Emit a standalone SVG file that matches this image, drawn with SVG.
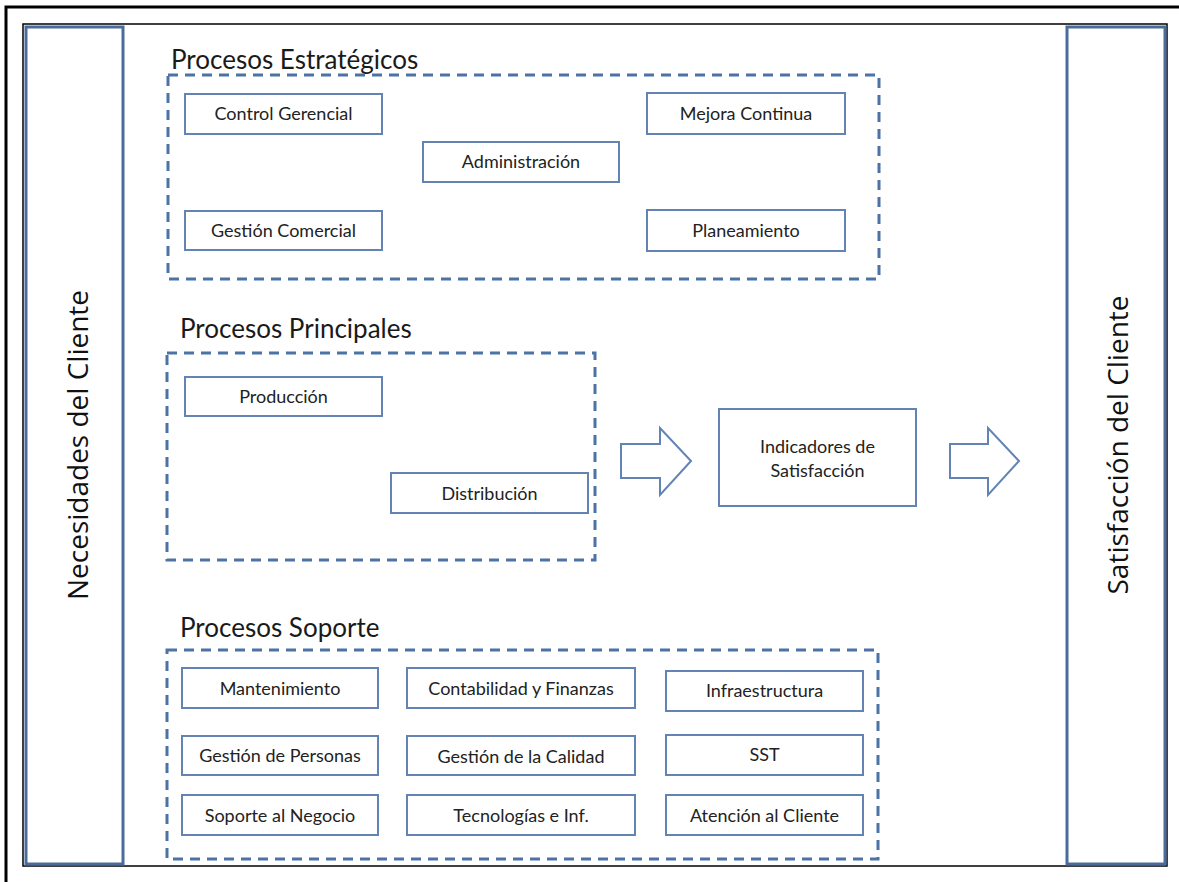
<svg xmlns="http://www.w3.org/2000/svg" width="1179" height="882" viewBox="0 0 1179 882">
<style>
.frame{fill:none;stroke:#000;}
.side{fill:#fff;stroke:#4a6c9c;stroke-width:3;}
.grp{fill:none;stroke:#4d72a6;stroke-width:3;stroke-dasharray:10 7;}
.box{fill:#fff;stroke:#6283b3;stroke-width:2;}
.lbl{font-family:Lato,"Liberation Sans",sans-serif;font-size:18px;fill:#222;text-anchor:middle;}
.ttl{font-family:Lato,"Liberation Sans",sans-serif;font-size:26px;fill:#1a1a1a;}
.vt{font-family:"Open Sans","Liberation Sans",sans-serif;font-size:28px;fill:#111;text-anchor:middle;}
.arr{fill:#fff;stroke:#6283b3;stroke-width:2;}
</style>
<rect width="1179" height="882" fill="#fff"/>
<rect class="frame" x="6" y="7" width="1180" height="880" stroke-width="3"/>
<rect class="frame" x="23" y="24" width="1144" height="842" stroke-width="1.5"/>

<g id="necesidades">
<rect class="side" x="26" y="27" width="97" height="837"/>
<text class="vt" transform="translate(88 445) rotate(-90)">Necesidades del Cliente</text>
</g>
<g id="satisfaccion">
<rect class="side" x="1067" y="27" width="98" height="837"/>
<text class="vt" transform="translate(1128 445) rotate(-90)">Satisfacción del Cliente</text>
</g>

<g id="estrategicos">
<text class="ttl" x="171" y="69">Procesos Estratégicos</text>
<rect class="grp" x="168" y="75" width="711" height="204"/>
</g>
<g id="control-gerencial"><rect class="box" x="185" y="94" width="197" height="40"/><text class="lbl" x="283.5" y="120">Control Gerencial</text></g>
<g id="gestion-comercial"><rect class="box" x="185" y="211" width="197" height="39"/><text class="lbl" x="283.5" y="237">Gestión Comercial</text></g>
<g id="administracion"><rect class="box" x="423" y="142" width="196" height="40"/><text class="lbl" x="521" y="168">Administración</text></g>
<g id="mejora-continua"><rect class="box" x="647" y="93" width="198" height="41"/><text class="lbl" x="746" y="120">Mejora Continua</text></g>
<g id="planeamiento"><rect class="box" x="647" y="210" width="198" height="41"/><text class="lbl" x="746" y="237">Planeamiento</text></g>

<g id="principales">
<text class="ttl" x="180" y="338">Procesos Principales</text>
<rect class="grp" x="167" y="353" width="428" height="207"/>
</g>
<g id="produccion"><rect class="box" x="185" y="377" width="197" height="39"/><text class="lbl" x="283.5" y="403">Producción</text></g>
<g id="distribucion"><rect class="box" x="391" y="473" width="197" height="40"/><text class="lbl" x="489.5" y="500">Distribución</text></g>

<g id="connectors">
<polygon class="arr" points="621,444 660,444 660,428 691,461 660,495 660,478 621,478"/>
<polygon class="arr" points="950,444 988,444 988,428 1019,461 988,495 988,478 950,478"/>
</g>

<g id="indicadores"><rect class="box" x="719" y="409" width="197" height="97"/><text class="lbl" x="817.5" y="453">Indicadores de</text><text class="lbl" x="817.5" y="477">Satisfacción</text></g>

<g id="soporte">
<text class="ttl" x="180" y="637">Procesos Soporte</text>
<rect class="grp" x="167" y="650" width="711" height="209"/>
</g>
<g id="mantenimiento"><rect class="box" x="182" y="668" width="196" height="40"/><text class="lbl" x="280" y="695">Mantenimiento</text></g>
<g id="contabilidad"><rect class="box" x="407" y="668" width="228" height="40"/><text class="lbl" x="521" y="695">Contabilidad y Finanzas</text></g>
<g id="infraestructura"><rect class="box" x="666" y="671" width="197" height="40"/><text class="lbl" x="764.5" y="697">Infraestructura</text></g>
<g id="gestion-personas"><rect class="box" x="182" y="736" width="196" height="39"/><text class="lbl" x="280" y="762">Gestión de Personas</text></g>
<g id="gestion-calidad"><rect class="box" x="407" y="736" width="228" height="39"/><text class="lbl" x="521" y="763">Gestión de la Calidad</text></g>
<g id="sst"><rect class="box" x="666" y="735" width="197" height="40"/><text class="lbl" x="764.5" y="761">SST</text></g>
<g id="soporte-negocio"><rect class="box" x="182" y="795" width="196" height="40"/><text class="lbl" x="280" y="822">Soporte al Negocio</text></g>
<g id="tecnologias"><rect class="box" x="407" y="795" width="228" height="40"/><text class="lbl" x="521" y="822">Tecnologías e Inf.</text></g>
<g id="atencion-cliente"><rect class="box" x="666" y="795" width="197" height="40"/><text class="lbl" x="764.5" y="822">Atención al Cliente</text></g>
</svg>
